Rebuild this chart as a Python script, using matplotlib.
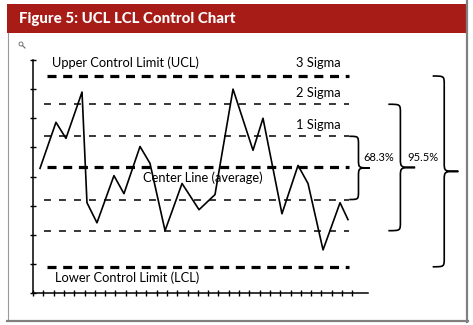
import matplotlib.pyplot as plt
from matplotlib import font_manager
from matplotlib.patches import Rectangle, PathPatch, Circle
from matplotlib.path import Path

plt.rcParams['lines.scale_dashes'] = False

# measured process values (x in tick units, y in axis tick units)
x_vals = [0.68, 2.23, 3.2, 4.76, 5.24, 6.21, 7.86, 8.83, 10.39, 11.36, 12.82, 14.47,
          16.12, 17.67, 19.42, 21.36, 22.33, 24.17, 25.73, 26.7, 28.16, 29.81, 30.58]
y_vals = [4.28, 5.86, 5.31, 6.90, 3.10, 2.41, 4.03, 3.41, 5.03, 4.45, 2.14, 3.76,
          2.86, 3.38, 7.0, 4.90, 6.0, 2.72, 4.38, 3.76, 1.48, 3.10, 2.52]

# control levels
center = 4.31
ucl, lcl = 7.45, 0.90
sig_up = [5.38, 6.48]      # +1, +2 sigma
sig_dn = [3.21, 2.14]      # -1, -2 sigma
n_xticks = 31

# narrow bold face for the heading, if one is installed
fonts = font_manager.fontManager.ttflist
title_font = dict(family='Lato', fontweight='black', fontsize=10.8)
if any(f.name == 'Liberation Sans Narrow' for f in fonts):
    title_font = dict(family='Liberation Sans Narrow', fontweight='bold', fontsize=14)
elif any(f.name == 'DejaVu Sans' and f.stretch == 'condensed' and f.weight == 'bold'
         for f in fonts):
    title_font = dict(family='DejaVu Sans', fontstretch='condensed', fontweight='bold',
                      fontsize=12)

W, H = 473, 325
fig = plt.figure(figsize=(W / 100, H / 100), dpi=100)

# page decoration: frame and title bar
bg = fig.add_axes([0, 0, 1, 1])
bg.set_xlim(0, W)
bg.set_ylim(H, 0)
bg.axis('off')
bg.add_patch(Rectangle((7, 4), 460, 29, color='#a81c17', lw=0))
bg.plot([7.5, 7.5], [33, 321], color='#9a9a9a', lw=0.8)
bg.plot([7, 468], [320.5, 320.5], color='#808080', lw=1.6)
bg.plot([467, 467], [0, 322], color='#808080', lw=1.6)
bg.text(19, 19.5, 'Figure 5: UCL LCL Control Chart', color='white', va='center',
        **title_font)
bg.add_patch(Circle((21, 44), 2, fill=False, ec='#666666', lw=0.6))
bg.plot([22.5, 25], [45.5, 48], color='#666666', lw=0.8)

ax = fig.add_axes([33 / W, (H - 293) / H, 335 / W, 233 / H])
ax.set_xlim(0, 335 / 10.3)
ax.set_ylim(0, 8)
ax.set_xticks(range(n_xticks + 1))
ax.set_yticks(range(9))
ax.tick_params(direction='inout', length=5, width=1, labelbottom=False, labelleft=False)
for s in ['top', 'right']:
    ax.spines[s].set_visible(False)
for s in ['left', 'bottom']:
    ax.spines[s].set_linewidth(1.1)

x_end = 30.7
thick = dict(color='black', lw=2.3, dashes=(6.5, 4.8))
thin = dict(color='black', lw=1.1, dashes=(5, 5.8))
for lvl in [ucl, center, lcl]:
    ax.plot([1.4, x_end], [lvl, lvl], **thick)
for lvl in sig_up + sig_dn:
    ax.plot([1.1, x_end], [lvl, lvl], **thin)

ax.plot(x_vals, y_vals, color='black', lw=1.2)

fnt = dict(family=['Lato', 'DejaVu Sans'], fontsize=9.3, va='center')
ax.text(1.8, 7.9, 'Upper Control Limit (UCL)', **fnt)
ax.text(25.5, 7.9, '3 Sigma', **fnt)
ax.text(25.5, 6.85, '2 Sigma', **fnt)
ax.text(25.5, 5.78, '1 Sigma', **fnt)
ax.text(10.7, 3.95, 'Center Line (average)', **fnt)
ax.text(2.1, 0.52, 'Lower Control Limit (LCL)', **fnt)


def brace(x0, yt, yb, w, d=0.3):
    xm, xt, ym = x0 + 0.45 * w, x0 + w, (yt + yb) / 2
    verts = [(x0, yt), (xm, yt), (xm, yt), (xm, yt - d),
             (xm, ym + d),
             (xm, ym), (xm, ym), (xt, ym),
             (xm, ym), (xm, ym), (xm, ym - d),
             (xm, yb + d),
             (xm, yb), (xm, yb), (x0, yb)]
    codes = [Path.MOVETO, Path.CURVE4, Path.CURVE4, Path.CURVE4,
             Path.LINETO,
             Path.CURVE4, Path.CURVE4, Path.CURVE4,
             Path.CURVE4, Path.CURVE4, Path.CURVE4,
             Path.LINETO,
             Path.CURVE4, Path.CURVE4, Path.CURVE4]
    ax.add_patch(PathPatch(Path(verts, codes), fill=False, lw=1.2, clip_on=False))


brace(30.7, sig_up[0], sig_dn[0], 2.0)
brace(34.5, sig_up[1], sig_dn[1], 2.6)
brace(38.8, ucl, lcl, 2.5)

pct = dict(family=['Lato', 'DejaVu Sans'], fontsize=8, va='center', clip_on=False)
ax.text(32.1, 4.65, '68.3%', **pct)
ax.text(36.3, 4.65, '95.5%', **pct)

fig.savefig('out.png', dpi=100)
